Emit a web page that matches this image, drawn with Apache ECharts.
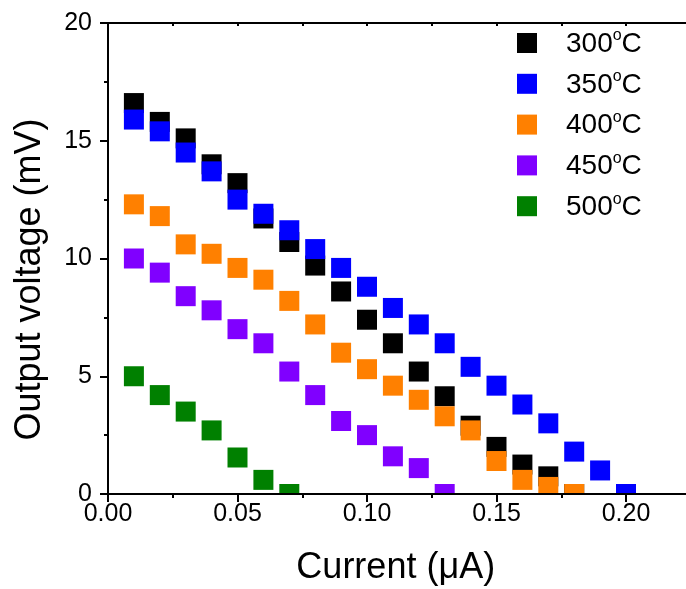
<!DOCTYPE html>
<html>
<head>
<meta charset="utf-8">
<script src="https://cdn.jsdelivr.net/npm/echarts@6/dist/echarts.min.js"></script>
<style>
html,body{margin:0;padding:0;background:#fff;}
#c{width:686px;height:589px;}
</style>
</head>
<body>
<div id="c"></div>
<script>
const currents = [0.01,0.02,0.03,0.04,0.05,0.06,0.07,0.08,0.09,0.10,0.11,0.12,0.13,0.14,0.15,0.16,0.17,0.18,0.19,0.20];
const temps = ['300','350','400','450','500'];
const v300 = [16.6,15.8,15.1,14.0,13.2,11.7,10.7,9.7,8.6,7.4,6.4,5.2,4.15,2.9,2.0,1.25,0.75,0];
const v350 = [15.9,15.4,14.5,13.7,12.5,11.9,11.2,10.4,9.6,8.8,7.9,7.2,6.4,5.4,4.6,3.8,3.0,1.8,1.0,0];
const v400 = [12.3,11.8,10.6,10.2,9.6,9.1,8.2,7.2,6.0,5.3,4.6,4.0,3.3,2.7,1.4,0.6,0.3,0];
const v450 = [10.0,9.4,8.4,7.8,7.0,6.4,5.2,4.2,3.1,2.5,1.6,1.1,0];
const v500 = [5.0,4.2,3.5,2.7,1.55,0.6,0];
const xTicks = ['0.00','0.05','0.10','0.15','0.20'];
const yTicks = ['0','5','10','15','20'];

const seriesValues = [v300, v350, v400, v450, v500];
const colors = ['#000000','#0000FF','#FF8000','#8000FF','#008000'];
const FONT = "'Liberation Sans', Arial, sans-serif";

const chart = echarts.init(document.getElementById('c'), null, {renderer:'canvas'});

function renderSquare(params, api) {
  const p = api.coord([api.value(0), api.value(1)]);
  const s = 20;
  return {
    type: 'rect',
    shape: {x: p[0] - s/2, y: p[1] - s/2, width: s, height: s},
    style: {fill: api.visual('color')}
  };
}

const series = seriesValues.map((vals, k) => ({
  type: 'custom',
  name: temps[k],
  renderItem: renderSquare,
  clip: true,
  itemStyle: {color: colors[k]},
  encode: {x: 0, y: 1},
  data: vals.map((v, i) => [currents[i], v])
}));

const axisLineStyle = {color:'#000', width:2};

chart.setOption({
  animation: false,
  backgroundColor: '#fff',
  grid: {left:108, top:23, height:471, width:647.5, containLabel:false, outerBoundsMode:'none'},
  legend: {
    orient: 'vertical',
    left: 517, top: 28,
    padding: 0,
    icon: 'rect',
    itemWidth: 20, itemHeight: 20,
    itemGap: 10.8,
    data: temps,
    formatter: name => '{n|' + name + '}{s|o}{n|C}',
    textStyle: {
      padding: [0,0,0,24],
      rich: {
        n: {fontSize: 28, fontFamily: FONT, color:'#000', lineHeight: 30, verticalAlign: 'bottom'},
        s: {fontSize: 16, fontFamily: FONT, color:'#000', lineHeight: 30, verticalAlign: 'top'}
      }
    }
  },
  xAxis: [{
    type: 'value', position: 'bottom',
    min: 0, max: 0.25, interval: 0.05,
    z: 5,
    name: 'Current (μA)',
    nameLocation: 'middle', nameGap: 56,
    nameTextStyle: {fontSize: 36, fontFamily: FONT, color:'#000', padding:[0,72,0,0]},
    axisLine: {show:true, onZero:false, lineStyle: axisLineStyle},
    axisTick: {show:true, inside:false, length:8, lineStyle:{color:'#000', width:2}},
    minorTick: {show:true, splitNumber:2, length:4, lineStyle:{color:'#000', width:2}},
    axisLabel: {fontSize: 25, fontFamily: FONT, color:'#000', margin: 8, showMaxLabel:false,
      formatter: v => { const i = Math.round(v/0.05); return xTicks[i] !== undefined ? xTicks[i] : ''; }},
    splitLine: {show:false}
  }, {
    type: 'value', position: 'top',
    min: 0, max: 0.25, interval: 0.05,
    z: 5,
    axisLine: {show:true, onZero:false, lineStyle: axisLineStyle},
    axisTick: {show:true, inside:true, length:3, lineStyle:{color:'#000', width:2}},
    minorTick: {show:true, splitNumber:2, length:3, lineStyle:{color:'#000', width:2}},
    axisLabel: {show:false},
    splitLine: {show:false}
  }],
  yAxis: {
    type: 'value',
    min: 0, max: 20, interval: 5,
    z: 5,
    name: 'Output voltage (mV)',
    nameLocation: 'middle', nameGap: 60,
    nameTextStyle: {fontSize: 36, fontFamily: FONT, color:'#000', padding:[0,42,0,0]},
    axisLine: {show:true, onZero:false, lineStyle: axisLineStyle},
    axisTick: {show:true, inside:false, length:8, lineStyle:{color:'#000', width:2}},
    minorTick: {show:true, splitNumber:2, length:4, lineStyle:{color:'#000', width:2}},
    axisLabel: {fontSize: 25, fontFamily: FONT, color:'#000', margin: 16,
      formatter: v => { const i = Math.round(v/5); return yTicks[i] !== undefined ? yTicks[i] : ''; }},
    splitLine: {show:false}
  },
  series: series
});
</script>
</body>
</html>
